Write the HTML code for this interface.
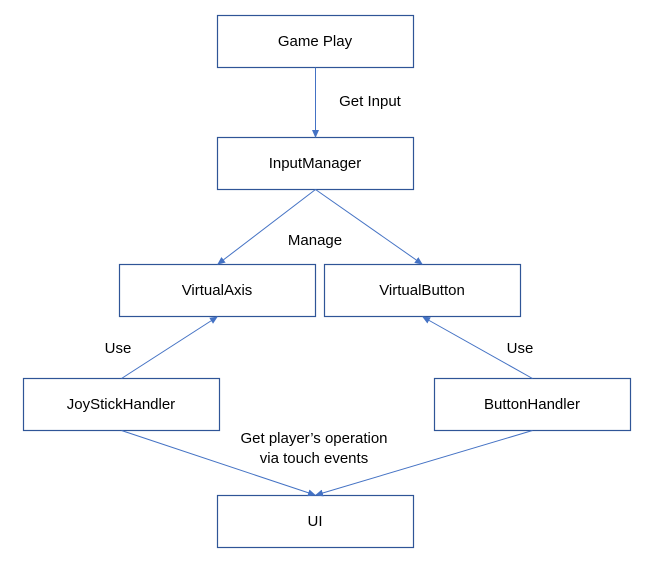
<!DOCTYPE html>
<html><head><meta charset="utf-8"><style>
html,body{margin:0;padding:0;background:#fff;}
svg text{font-family:"Liberation Sans",sans-serif;font-size:15px;fill:#000;}
</style></head><body>
<svg width="654" height="563" viewBox="0 0 654 563" xmlns="http://www.w3.org/2000/svg">
<defs><marker id="a" markerWidth="8" markerHeight="8" refX="7" refY="4" orient="auto" markerUnits="userSpaceOnUse"><path d="M0,0.5 L8,4 L0,7.5 Z" fill="#4472c4"/></marker></defs>
<g fill="#fff" stroke="#2f5597" stroke-width="1.2">
<rect x="217.5" y="15.5" width="196" height="52"/>
<rect x="217.5" y="137.5" width="196" height="52"/>
<rect x="119.5" y="264.5" width="196" height="52"/>
<rect x="324.5" y="264.5" width="196" height="52"/>
<rect x="23.5" y="378.5" width="196" height="52"/>
<rect x="434.5" y="378.5" width="196" height="52"/>
<rect x="217.5" y="495.5" width="196" height="52"/>
</g>
<g stroke="#4472c4" stroke-width="1" fill="none" marker-end="url(#a)">
<line x1="315.5" y1="67.5" x2="315.5" y2="137"/>
<line x1="315.5" y1="189.5" x2="218" y2="264"/>
<line x1="315.5" y1="189.5" x2="422" y2="264"/>
<line x1="121.5" y1="378.5" x2="217" y2="317"/>
<line x1="532.5" y1="378.5" x2="423" y2="317"/>
<line x1="121.5" y1="430.5" x2="315" y2="495"/>
<line x1="532.5" y1="430.5" x2="316" y2="495"/>
</g>
<g text-anchor="middle">
<text x="315" y="46">Game Play</text>
<text x="315" y="168">InputManager</text>
<text x="217" y="295">VirtualAxis</text>
<text x="422" y="295">VirtualButton</text>
<text x="121" y="409">JoyStickHandler</text>
<text x="532" y="409">ButtonHandler</text>
<text x="315" y="526">UI</text>
<text x="370" y="106">Get Input</text>
<text x="315" y="245">Manage</text>
<text x="118" y="353">Use</text>
<text x="520" y="353">Use</text>
<text x="314" y="443">Get player’s operation</text>
<text x="314" y="463">via touch events</text>
</g>
</svg>
</body></html>
